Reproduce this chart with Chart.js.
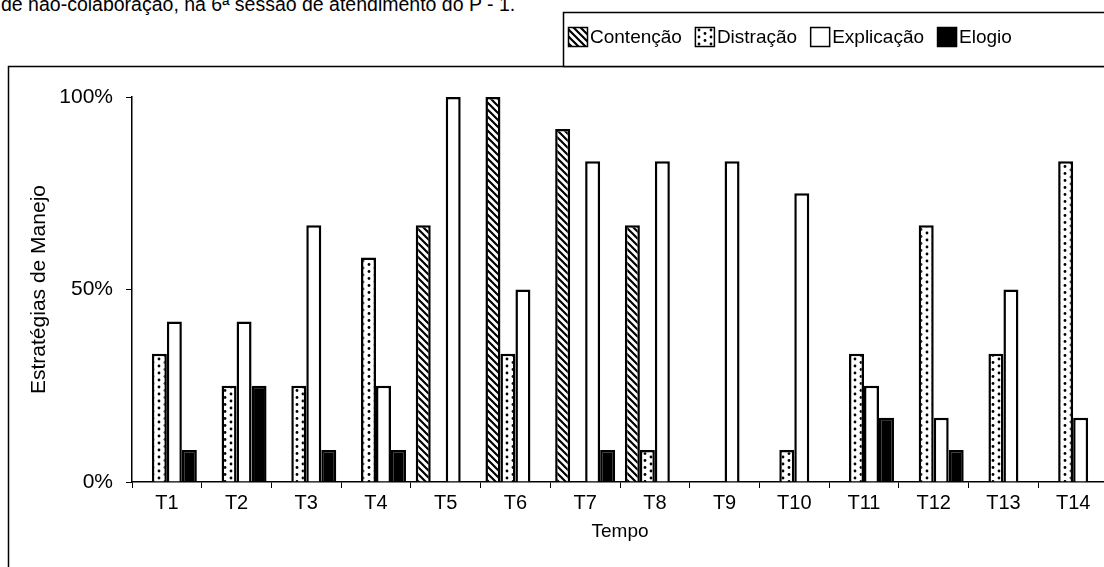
<!DOCTYPE html>
<html>
<head>
    <meta charset="utf-8">
    <title>Estratégias de Manejo</title>
    <style>
        html, body { margin: 0; padding: 0; background: #fff; overflow: hidden; width: 1104px; height: 567px; }
        #caption { position: absolute; left: 1px; top: -7px; font: 19.5px Arial, "Liberation Sans", sans-serif; color: #000; white-space: nowrap; }
        #wrap { position: absolute; left: 0; top: 0; width: 1160px; height: 567px; }
    </style>
</head>

<body>

    <div id="caption">de não-colaboração, na 6ª sessão de atendimento do P - 1.</div>

    <div id="wrap">
        <canvas id="myChart"></canvas>
    </div>

    <script src="https://cdn.jsdelivr.net/npm/chart.js"></script>

    <script>
        // values (in %, steps of 1/12)
        const categories = ["T1", "T2", "T3", "T4", "T5", "T6", "T7", "T8", "T9", "T10", "T11", "T12", "T13", "T14"];
        const contencao  = [0, 0, 0, 0, 66.7, 100, 91.7, 66.7, 0, 0, 0, 0, 0, 0];
        const distracao  = [33.3, 25, 25, 58.3, 0, 33.3, 0, 8.3, 0, 8.3, 33.3, 66.7, 33.3, 83.3];
        const explicacao = [41.7, 41.7, 66.7, 25, 100, 50, 83.3, 83.3, 83.3, 75, 25, 16.7, 50, 16.7];
        const elogio     = [8.3, 25, 8.3, 8.3, 0, 0, 8.3, 0, 0, 0, 16.7, 8.3, 0, 0];
        const yTicks = [0, 50, 100];

        const FONT = 'Arial, "Liberation Sans", sans-serif';

        function hatchPattern() {
            const c = document.createElement("canvas");
            c.width = 7; c.height = 7;
            const g = c.getContext("2d");
            g.fillStyle = "#fff"; g.fillRect(0, 0, 7, 7);
            g.strokeStyle = "#000"; g.lineWidth = 2.2;
            g.beginPath();
            g.moveTo(-1, -1); g.lineTo(8, 8);
            g.moveTo(-8, -1); g.lineTo(1, 8);
            g.moveTo(6, -1); g.lineTo(15, 8);
            g.stroke();
            return g.createPattern(c, "repeat");
        }

        function dotPattern() {
            const c = document.createElement("canvas");
            c.width = 12; c.height = 7;
            const g = c.getContext("2d");
            g.fillStyle = "#fff"; g.fillRect(0, 0, 12, 7);
            g.fillStyle = "#000";
            g.beginPath(); g.arc(3, 2, 1.4, 0, Math.PI * 2); g.fill();
            g.beginPath(); g.arc(9, 5.5, 1.4, 0, Math.PI * 2); g.fill();
            return g.createPattern(c, "repeat");
        }

        // legend in a box at the top and the outer frame of the chart
        const boxLegend = {
            id: "boxLegend",
            beforeDraw(chart) {
                const ctx = chart.ctx;
                ctx.save();
                ctx.strokeStyle = "#000";
                ctx.lineWidth = 1.5;
                ctx.strokeRect(8.5, 66.5, 1300, 700);
                ctx.restore();
            },
            afterDraw(chart) {
                const ctx = chart.ctx;
                ctx.save();
                ctx.fillStyle = "#fff";
                ctx.fillRect(563, 12, 700, 54);
                ctx.strokeStyle = "#000";
                ctx.lineWidth = 1.5;
                ctx.strokeRect(563.5, 12.5, 700, 54);
                ctx.font = "19px " + FONT;
                ctx.textBaseline = "middle";
                let x = 568;
                chart.data.datasets.forEach(ds => {
                    ctx.fillStyle = ds.backgroundColor;
                    ctx.fillRect(x, 27, 20, 20);
                    ctx.lineWidth = 1.5;
                    ctx.strokeRect(x + 0.5, 27.5, 19, 19);
                    ctx.fillStyle = "#000";
                    ctx.fillText(ds.label, x + 22, 38);
                    x += 22 + ctx.measureText(ds.label).width + 13;
                });
                ctx.restore();
            }
        };

        const ctx = document.getElementById("myChart");

        const barStyle = {
            borderColor: "#000",
            borderWidth: 2.5,
            categoryPercentage: 0.86,
            barPercentage: 1.0
        };

        new Chart(ctx, {
            type: "bar",
            data: {
                labels: categories,
                datasets: [
                    { label: "Contenção", data: contencao, backgroundColor: hatchPattern(), ...barStyle },
                    { label: "Distração", data: distracao, backgroundColor: dotPattern(), ...barStyle },
                    { label: "Explicação", data: explicacao, backgroundColor: "#fff", ...barStyle },
                    { label: "Elogio", data: elogio, backgroundColor: "#000", ...barStyle }
                ]
            },
            options: {
                responsive: true,
                maintainAspectRatio: false,
                animation: false,
                layout: { padding: { top: 97, left: 8, right: 52, bottom: 0 } },
                plugins: {
                    legend: { display: false },
                    tooltip: { enabled: false }
                },
                scales: {
                    x: {
                        afterFit: s => { s.height = 85; },
                        grid: { display: true, drawOnChartArea: false, offset: true, color: "#000", tickLength: 6 },
                        border: { display: true, color: "#000", width: 1.5 },
                        ticks: { color: "#000", padding: 3, font: { family: FONT, size: 20 } },
                        title: { display: true, text: "Tempo", color: "#000", font: { family: FONT, size: 19 }, padding: { top: 0, bottom: 24 } }
                    },
                    y: {
                        min: 0,
                        max: 100,
                        afterFit: s => { s.width = 124; },
                        afterBuildTicks: s => { s.ticks = yTicks.map(v => ({ value: v })); },
                        grid: { display: true, drawOnChartArea: false, color: "#000", tickLength: 6 },
                        border: { display: true, color: "#000", width: 1.5 },
                        ticks: { color: "#000", padding: 13, font: { family: FONT, size: 21 }, callback: v => v + "%" },
                        title: { display: true, text: "Estratégias de Manejo", color: "#000", font: { family: FONT, size: 21 }, padding: { top: 19, bottom: 0 } }
                    }
                }
            },
            plugins: [boxLegend]
        });
    </script>

</body>
</html>
